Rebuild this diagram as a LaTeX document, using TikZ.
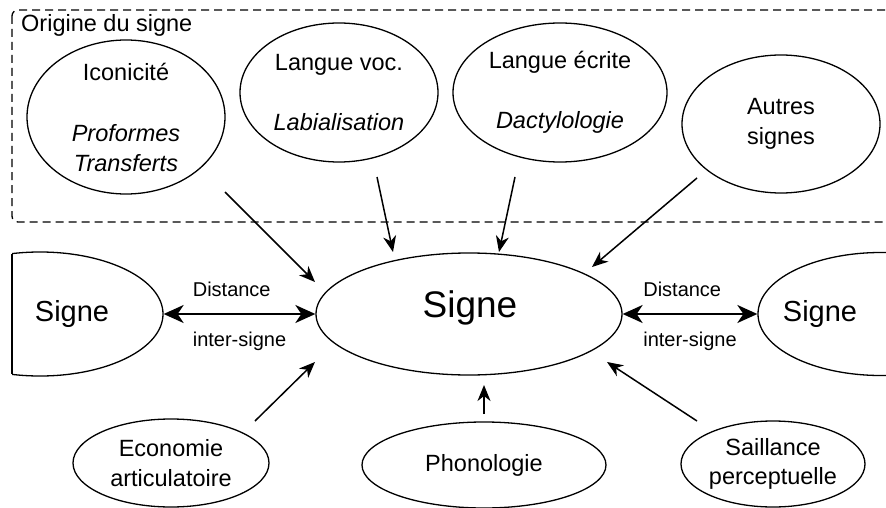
\documentclass[tikz,border=0pt]{standalone}
\usepackage{fontspec}
\setmainfont{Liberation Sans}
\usetikzlibrary{arrows.meta,shapes.geometric}

\tikzset{
  bulle/.style={draw, ellipse, line width=1.3pt, inner sep=0pt},
  texte/.style={font=\fontsize{23.5}{29.5}\selectfont, align=center, inner sep=0pt},
  fleche/.style={-{Stealth[length=16pt,width=13pt,inset=5pt]}, line width=1.5pt},
  dfleche/.style={{Stealth[length=20pt,width=18pt,inset=6pt]}-{Stealth[length=20pt,width=18pt,inset=6pt]}, line width=2pt},
  petit/.style={font=\fontsize{20}{24}\selectfont, align=left, inner sep=0pt},
}

\begin{document}
\begin{tikzpicture}[x=1pt,y=-1pt]
\useasboundingbox (0,0) rectangle (886,508);
\clip (0,0) rectangle (886,508);

%Origine du signe
\draw[dash pattern=on 8pt off 5pt, line width=1.3pt, rounded corners=6pt] (12,10) rectangle (900,222);
\node[texte, anchor=base west] (origine) at (21,32) {Origine du signe};

\node[bulle, minimum width=198pt, minimum height=154pt] (ico) at (126,117) {};
\node[texte] (icoT) at (ico) {Iconicité\\[32pt]\textit{Proformes}\\\textit{Transferts}};
\node[bulle, minimum width=198pt, minimum height=139pt] (voc) at (339,92.5) {};
\node[texte] (vocT) at (voc) {Langue voc.\\[30pt]\textit{Labialisation}};
\node[bulle, minimum width=214pt, minimum height=139pt] (ecr) at (560,92.5) {};
\node[texte] (ecrT) at (ecr) {Langue écrite\\[30pt]\textit{Dactylologie}};
\node[bulle, minimum width=198pt, minimum height=138pt] (aut) at (781,124) {};
\node[texte] (autT) at (aut) {Autres\\signes};

%Signes
\node[bulle, minimum width=306pt, minimum height=122pt] (sig) at (469,314) {};
\node[font=\fontsize{37}{44}\selectfont, inner sep=0pt] (sigT) at (470,308) {Signe};

\begin{scope}
\clip (12,0) rectangle (886,508);
\node[bulle, minimum width=246pt, minimum height=124pt] (sigL) at (40,314) {};
\end{scope}
\draw[line width=1.3pt] (12,253.6) -- (12,374.4);
\node[font=\fontsize{29}{35}\selectfont, inner sep=0pt] (sigLT) at (72,314) {Signe};

\node[bulle, minimum width=246pt, minimum height=123pt] (sigR) at (881,314) {};
\node[font=\fontsize{29}{35}\selectfont, inner sep=0pt] (sigRT) at (820,314) {Signe};

\draw[dfleche] (sigL) -- node[petit, yshift=-2pt] (dist1) {Distance\\[26pt]inter-signe} (sig);
\draw[dfleche] (sig) -- node[petit, yshift=-2pt] (dist2) {Distance\\[26pt]inter-signe} (sigR);

%Contraintes
\node[bulle, minimum width=196pt, minimum height=88pt] (eco) at (171,463) {};
\node[texte] (ecoT) at (eco) {Economie\\articulatoire};
\node[bulle, minimum width=244pt, minimum height=86pt] (pho) at (484,465) {};
\node[texte] (phoT) at (pho) {Phonologie};
\node[bulle, minimum width=184pt, minimum height=86pt] (sai) at (773,464) {};
\node[texte] (saiT) at (sai) {Saillance\\perceptuelle};

\coordinate (icoA) at (225,192); \coordinate (icoB) at (315,282);
\coordinate (vocA) at (377,177); \coordinate (vocB) at (393,252);
\coordinate (ecrA) at (515,177); \coordinate (ecrB) at (499,252);
\coordinate (autA) at (697,178); \coordinate (autB) at (592,267);
\coordinate (ecoA) at (255,421); \coordinate (ecoB) at (315,362);
\coordinate (phoA) at (484,414); \coordinate (phoB) at (484,385);
\coordinate (saiA) at (697,421); \coordinate (saiB) at (607,362);
\draw[fleche] (icoA) -- (icoB);
\draw[fleche] (vocA) -- (vocB);
\draw[fleche] (ecrA) -- (ecrB);
\draw[fleche] (autA) -- (autB);
\draw[fleche] (ecoA) -- (ecoB);
\draw[fleche] (phoA) -- (phoB);
\draw[fleche] (saiA) -- (saiB);

\end{tikzpicture}
\end{document}
